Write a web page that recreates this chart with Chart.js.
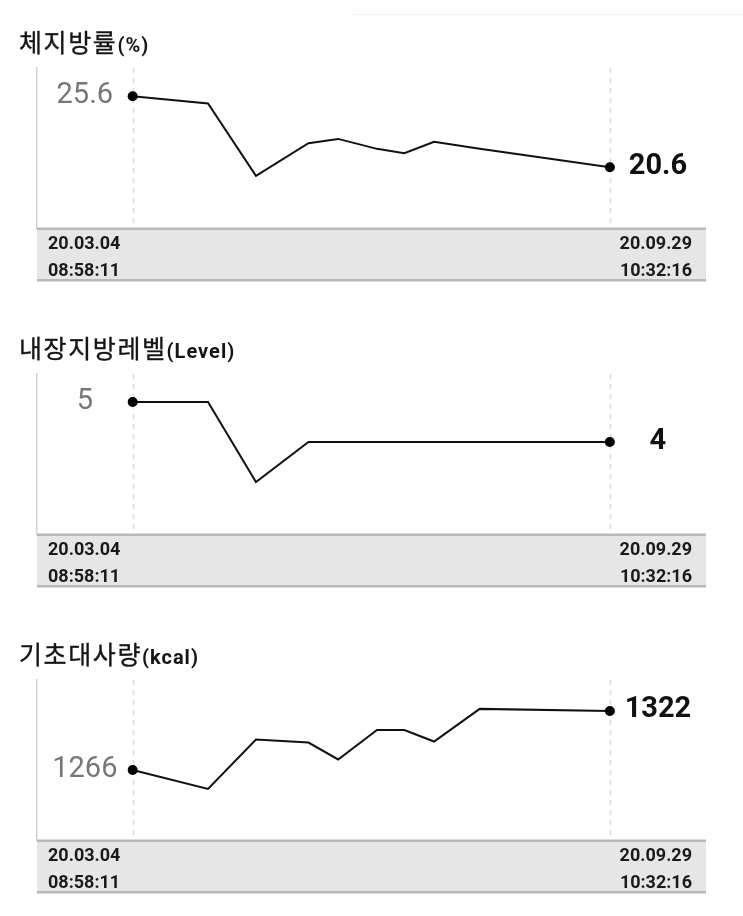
<!DOCTYPE html>
<html>
<head>
<meta charset="utf-8">
<script src="https://cdn.jsdelivr.net/npm/chart.js@4/dist/chart.umd.min.js"></script>
<style>
  body { margin: 0; background: #fff; width: 743px; overflow: hidden; }
  .panel { position: relative; width: 743px; height: 306px; }
  .title { position: absolute; left: 19px; top: 27px; font-family: "Noto Sans CJK KR", sans-serif; font-size: 25px; line-height: 28px; color: #151515; letter-spacing: 1.6px; -webkit-text-stroke: 0.35px #151515; }
  .title span { font-family: Roboto, sans-serif; font-weight: bold; font-size: 20px; letter-spacing: 1px; -webkit-text-stroke: 0; }
  .topline { position: absolute; left: 353px; top: 14px; width: 390px; height: 1px; background: #f1f1f1; }
</style>
</head>
<body>
<div class="topline"></div>
<div class="panel"><div class="title">체지방률<span>(%)</span></div><canvas id="chart1" width="743" height="306"></canvas></div>
<div class="panel"><div class="title">내장지방레벨<span>(Level)</span></div><canvas id="chart2" width="743" height="306"></canvas></div>
<div class="panel"><div class="title">기초대사량<span>(kcal)</span></div><canvas id="chart3" width="743" height="306"></canvas></div>
<script>
// days since 20.03.04 08:58:11 for each measurement
var days = [0, 33, 54, 77, 90, 107, 119, 132, 152, 209];
var bodyFat = [25.6, 25.1, 20.0, 22.3, 22.6, 21.9, 21.6, 22.4, 21.9, 20.6];
var visceralLevel = [5, 5, 3, 4, 4, 4, 4, 4, 4, 4];
var bmr = [1266, 1248, 1295, 1292, 1276, 1304, 1304, 1293, 1324, 1322];

var startDate = ['20.03.04', '08:58:11'];
var endDate = ['20.09.29', '10:32:16'];

// dashed guides, end value labels and the grey date band
var decoPlugin = {
  id: 'deco',
  beforeDatasetsDraw: function(chart) {
    var ctx = chart.ctx;
    var area = chart.chartArea;
    var xs = chart.scales.x;
    ctx.save();
    ctx.strokeStyle = '#dcdcdc';
    ctx.lineWidth = 1.5;
    ctx.setLineDash([5, 5]);
    [days[0], days[days.length - 1]].forEach(function(d) {
      var px = Math.round(xs.getPixelForValue(d)) + 0.5;
      ctx.beginPath();
      ctx.moveTo(px, area.top);
      ctx.lineTo(px, area.bottom);
      ctx.stroke();
    });
    ctx.restore();
  },
  afterDatasetsDraw: function(chart) {
    var ctx = chart.ctx;
    var area = chart.chartArea;
    var meta = chart.getDatasetMeta(0);
    var vals = chart.data.datasets[0].data;
    var first = meta.data[0];
    var last = meta.data[meta.data.length - 1];
    ctx.save();

    // value labels
    ctx.textAlign = 'center';
    ctx.textBaseline = 'alphabetic';
    ctx.font = '29px Roboto';
    ctx.fillStyle = '#777';
    ctx.fillText(String(vals[0].y), (area.left + first.x) / 2, first.y + 6.5);
    ctx.font = 'bold 29px Roboto';
    ctx.fillStyle = '#111';
    ctx.fillText(String(vals[vals.length - 1].y), (last.x + area.right) / 2, last.y + 6.5);

    // date band
    var top = area.bottom;
    ctx.fillStyle = '#e6e6e6';
    ctx.fillRect(area.left, top, area.right - area.left, 53);
    ctx.fillStyle = '#b8b8b8';
    ctx.fillRect(area.left, top - 0.5, area.right - area.left, 2.5);
    ctx.fillRect(area.left, top + 51, area.right - area.left, 2.5);

    ctx.font = 'bold 18px Roboto';
    ctx.fillStyle = '#1a1a1a';
    ctx.textAlign = 'left';
    ctx.fillText(startDate[0], area.left + 11, top + 21);
    ctx.fillText(startDate[1], area.left + 11, top + 48);
    ctx.textAlign = 'right';
    ctx.fillText(endDate[0], area.right - 14, top + 21);
    ctx.fillText(endDate[1], area.right - 14, top + 48);
    ctx.restore();
  }
};

function makechart(id, values, ymin, ymax) {
  var ctx = document.getElementById(id).getContext('2d');
  var pts = days.map(function(d, i) { return {x: d, y: values[i]}; });
  var radius = values.map(function(v, i) { return (i == 0 || i == values.length - 1) ? 5 : 0; });
  return new Chart(ctx, {
    type: 'line',
    data: {
      datasets: [{
        data: pts,
        borderColor: '#111',
        borderWidth: 2,
        fill: false,
        tension: 0,
        pointRadius: radius,
        pointHoverRadius: radius,
        pointBackgroundColor: '#000',
        pointBorderWidth: 0
      }]
    },
    options: {
      responsive: false,
      animation: false,
      layout: { padding: { left: 37, right: 37, top: 68, bottom: 78 } },
      plugins: { legend: { display: false }, tooltip: { enabled: false } },
      scales: {
        x: { type: 'linear', min: -41.9, max: 251.1, display: false },
        y: {
          min: ymin, max: ymax,
          display: true,
          ticks: { display: false },
          grid: { display: false, drawTicks: false },
          border: { display: true, color: '#cfcfcf', width: 1.5 }
        }
      }
    },
    plugins: [decoPlugin]
  });
}

makechart('chart1', bodyFat, 16.33, 27.59);
makechart('chart2', visceralLevel, 1.7, 5.7);
makechart('chart3', bmr, 1199.6, 1351.4);
</script>
</body>
</html>
